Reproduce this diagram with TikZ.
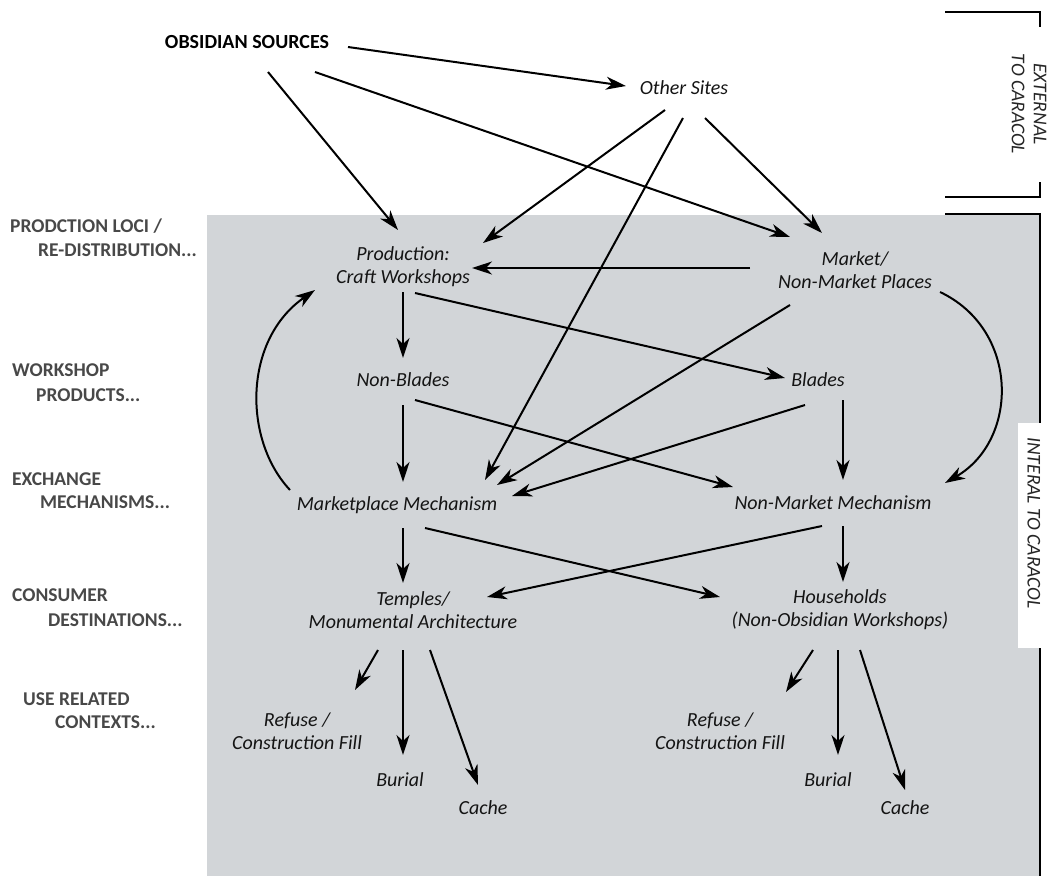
\documentclass[tikz,border=0pt]{standalone}
\usepackage{fontspec}
\setmainfont{Carlito}
\usetikzlibrary{arrows.meta,calc}
\definecolor{bggray}{RGB}{210,213,216}
\definecolor{lblgray}{RGB}{72,72,72}
\definecolor{txt}{RGB}{20,20,20}
\begin{document}
\begin{tikzpicture}[x=1pt,y=-1pt,
  box/.style={inner sep=0pt,align=center,text=txt,font=\fontsize{20}{23}\selectfont\itshape},
  side/.style={inner sep=0pt,anchor=west,text=lblgray,font=\fontsize{19.5}{23}\selectfont\bfseries},
  arr/.style={-{Stealth[length=20pt,width=13pt,inset=6pt]},line width=2pt,black},
  brk/.style={line width=1.8pt,black}]
\useasboundingbox (0,0) rectangle (1053,881);
% background panel
\fill[bggray] (207,215) rectangle (1040,876);
% brackets
\draw[brk] (945,12) -- (1040,12) -- (1040,27);
\draw[brk] (1040,182) -- (1040,197) -- (945,197);
\draw[brk] (945,214) -- (1040,214) -- (1040,876);
\fill[white] (1018,423) rectangle (1053,648);
\node[text=black!85,inner sep=0pt,rotate=-90,font=\fontsize{19.5}{22}\selectfont\itshape] (intl) at (1034,523) {INTERAL TO CARACOL};
\node[text=black!85,inner sep=0pt,rotate=-90,align=center,font=\fontsize{19.5}{22}\selectfont\itshape] (extl) at (1029,104) {EXTERNAL\\TO CARACOL};
% side labels
\node[side] (s1a) at (10,226) {PRODCTION LOCI /};
\node[side] (s1b) at (38,250) {RE-DISTRIBUTION...};
\node[side] (s2a) at (12,370) {WORKSHOP};
\node[side] (s2b) at (36,395) {PRODUCTS...};
\node[side] (s3a) at (12,479) {EXCHANGE};
\node[side] (s3b) at (40,502) {MECHANISMS...};
\node[side] (s4a) at (12,595) {CONSUMER};
\node[side] (s4b) at (48,620) {DESTINATIONS...};
\node[side] (s5a) at (23,699) {USE RELATED};
\node[side] (s5b) at (55,722) {CONTEXTS...};
% nodes
\node[inner sep=0pt,text=black,font=\fontsize{20}{23}\selectfont\bfseries] (obs) at (247,42) {OBSIDIAN SOURCES};
\node[box] (other) at (684,88) {Other Sites};
\node[box] (prod) at (403,267) {Production:\\Craft Workshops};
\node[box] (market) at (855,270) {Market/\\Non-Market Places};
\node[box] (nonbl) at (403,380) {Non-Blades};
\node[box] (blades) at (818,380) {Blades};
\node[box] (mm) at (397,505) {Marketplace Mechanism};
\node[box] (nmm) at (833,503) {Non-Market Mechanism};
\node[box] (temples) at (413,610) {Temples/\\Monumental Architecture};
\node[box] (house) at (840,610) {Households\\(Non-Obsidian Workshops)};
\node[box] (refL) at (297,731) {Refuse /\\Construction Fill};
\node[box] (burL) at (400,780) {Burial};
\node[box] (cacL) at (483,808) {Cache};
\node[box] (refR) at (720,731) {Refuse /\\Construction Fill};
\node[box] (burR) at (828,780) {Burial};
\node[box] (cacR) at (905,808) {Cache};
% connectors
\draw[arr] ($(obs)+(101,5)$) -- ($(other)+(-58,-2)$);
\draw[arr] ($(obs)+(21,30)$) -- ($(prod)+(-5,-37)$);
\draw[arr] ($(obs)+(68,30)$) -- ($(market)+(-65,-33)$);
\draw[arr] ($(other)+(-19,22)$) -- ($(prod)+(80,-24)$);
\draw[arr] ($(other)+(-1,30)$) -- ($(mm)+(88,-25)$);
\draw[arr] ($(other)+(21,30)$) -- ($(market)+(-33,-37)$);
\draw[arr] ($(market)+(-105,-2)$) -- ($(prod)+(69,1)$);
\draw[arr] ($(prod)+(0,25)$) -- ($(nonbl)+(0,-22)$);
\draw[arr] ($(prod)+(12,26)$) -- ($(blades)+(-33,-2)$);
\draw[arr] ($(market)+(-65,35)$) -- ($(mm)+(100,-20)$);
\draw[arr] ($(blades)+(-13,25)$) -- ($(mm)+(115,-9)$);
\draw[arr] ($(nonbl)+(0,25)$) -- ($(mm)+(6,-23)$);
\draw[arr] ($(nonbl)+(12,20)$) -- ($(nmm)+(-100,-16)$);
\draw[arr] ($(blades)+(25,20)$) -- ($(nmm)+(10,-23)$);
\draw[arr] ($(market)+(85,22)$) .. controls ($(market)+(165,60)$) and ($(nmm)+(186,-63)$) .. ($(nmm)+(112,-20)$);
\draw[arr] ($(mm)+(-107,-15)$) .. controls ($(mm)+(-154,-65)$) and ($(prod)+(-160,73)$) .. ($(prod)+(-88,23)$);
\draw[arr] ($(mm)+(6,23)$) -- ($(temples)+(-10,-27)$);
\draw[arr] ($(mm)+(28,23)$) -- ($(house)+(-120,-13)$);
\draw[arr] ($(nmm)+(-11,23)$) -- ($(temples)+(74,-13)$);
\draw[arr] ($(nmm)+(10,23)$) -- ($(house)+(3,-28)$);
\draw[arr] ($(temples)+(-35,40)$) -- ($(refL)+(58,-41)$);
\draw[arr] ($(temples)+(-10,40)$) -- ($(burL)+(3,-25)$);
\draw[arr] ($(temples)+(17,40)$) -- ($(cacL)+(-5,-23)$);
\draw[arr] ($(house)+(-27,40)$) -- ($(refR)+(66,-39)$);
\draw[arr] ($(house)+(-2,40)$) -- ($(burR)+(10,-25)$);
\draw[arr] ($(house)+(20,40)$) -- ($(cacR)+(0,-18)$);
\end{tikzpicture}
\end{document}
